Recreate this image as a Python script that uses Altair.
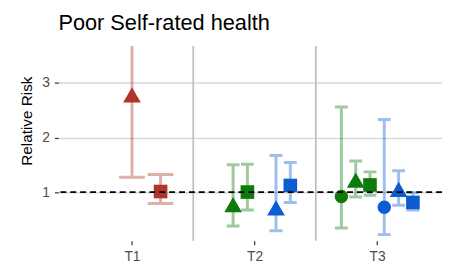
import altair as alt
import pandas as pd

# ---------------- data ----------------
chart_title = ["Poor Self-rated health"]
y_title = ["Relative Risk"]
periods = ["T1", "T2", "T3"]
groups = ["Group A", "Group B", "Group C"]          # red, green, blue
models = ["Model 1", "Model 2", "Model 3"]          # circle, triangle, square

point_period = ["T1", "T1", "T2", "T2", "T2", "T2", "T3", "T3", "T3", "T3", "T3", "T3"]
point_group = ["Group A", "Group A", "Group B", "Group B", "Group C", "Group C",
               "Group B", "Group B", "Group B", "Group C", "Group C", "Group C"]
point_model = ["Model 2", "Model 3", "Model 2", "Model 3", "Model 2", "Model 3",
               "Model 1", "Model 2", "Model 3", "Model 1", "Model 2", "Model 3"]
rr = [2.78, 1.01, 0.77, 1.00, 0.71, 1.12, 0.92, 1.22, 1.13, 0.72, 1.05, 0.81]
ci_low = [1.27, 0.79, 0.38, 0.67, 0.29, 0.81, 0.34, 0.91, 0.94, 0.22, 0.76, 0.67]
ci_high = [5.00, 1.32, 1.50, 1.51, 1.67, 1.54, 2.56, 1.57, 1.37, 2.33, 1.39, 0.99]

reference_value = [1]
y_ticks = [1, 2, 3]

# ---------------- styles ----------------
group_colors = ["#B0362B", "#0E7A0E", "#0C5CD2"]
model_shapes = ["circle", "triangle-up", "square"]
model_sizes = [185, 320, 190]
FONT = "Liberation Sans"
dodge_width = 0.7
cap_frac = 0.9
Y_MIN, Y_MAX = 0.107, 3.676

# ---------------- dodge computation ----------------
n = len(rr)
pts = []
paths = []
for i in range(n):
    p = point_period[i]
    present = {point_group[j] for j in range(n) if point_period[j] == p}
    here = [g for g in groups if g in present]
    nslots = len(here) * len(models)
    slot = here.index(point_group[i]) * len(models) + models.index(point_model[i])
    step = dodge_width / nslots
    x = periods.index(p) + 1 + (slot - (nslots - 1) / 2) * step
    c = cap_frac * step / 2
    pts.append({"id": i, "x": x, "y": rr[i], "group": point_group[i], "model": point_model[i]})
    verts = []
    if ci_high[i] <= Y_MAX:
        verts += [(x - c, ci_high[i]), (x + c, ci_high[i]), (x, ci_high[i])]
    else:  # whisker leaves the panel: cut at the panel edge, no cap
        verts += [(x, Y_MAX)]
    verts += [(x, ci_low[i]), (x - c, ci_low[i]), (x + c, ci_low[i])]
    for k, (vx, vy) in enumerate(verts):
        paths.append({"id": i, "seq": k, "x": vx, "y": vy, "group": point_group[i]})

pts_df = pd.DataFrame(pts)
path_df = pd.DataFrame(paths)
sep_df = pd.DataFrame({"x": [k + 1.5 for k in range(len(periods) - 1)]})
ref_df = pd.DataFrame({"y": reference_value})
title_df = pd.DataFrame({"t": chart_title})
ytitle_df = pd.DataFrame({"t": y_title})

W, H = 388, 197
x_scale = alt.Scale(domain=[0.4, 0.4 + W / 124.0], nice=False, zero=False)
y_scale = alt.Scale(domain=[Y_MIN, Y_MAX], nice=False, zero=False)
color_scale = alt.Scale(domain=groups, range=group_colors)

label_expr = "[" + ",".join("'%s'" % p for p in periods) + "][datum.value - 1]"

x_axis = alt.Axis(values=[1, 2, 3], labelExpr=label_expr, grid=False, domain=False,
                  ticks=True, tickColor="#333333", tickSize=4, tickWidth=1.2,
                  labelFontSize=14, labelColor="#4D4D4D", labelPadding=5,
                  labelFont=FONT, title=None)
y_axis = alt.Axis(values=y_ticks, grid=True, gridColor="#D9D9D9", gridWidth=1.5,
                  domain=False, ticks=True, tickColor="#333333", tickSize=4, tickWidth=1.2,
                  labelFontSize=14, labelColor="#4D4D4D", labelPadding=5, labelFont=FONT,
                  title=None)

X = alt.X("x:Q", scale=x_scale, axis=x_axis)
Y = alt.Y("y:Q", scale=y_scale, axis=y_axis)

seps = alt.Chart(sep_df).mark_rule(color="#BDBDBD", strokeWidth=1.7).encode(x=X)

bars = alt.Chart(path_df).mark_line(strokeWidth=3, opacity=0.4, strokeCap="butt",
                                    strokeJoin="miter").encode(
    x=X, y=Y, detail="id:N", order="seq:Q",
    color=alt.Color("group:N", scale=color_scale, legend=None))

point_layers = []
for m, shp, sz in zip(models, model_shapes, model_sizes):
    point_layers.append(
        alt.Chart(pts_df).transform_filter(alt.datum.model == m)
        .mark_point(filled=True, opacity=1, shape=shp, size=sz, strokeWidth=0)
        .encode(x=X, y=Y, color=alt.Color("group:N", scale=color_scale, legend=None))
    )

ref = alt.Chart(ref_df).mark_rule(color="black", strokeWidth=1.7, strokeDash=[6, 4]).encode(y=Y)

title = alt.Chart(title_df).mark_text(align="left", baseline="alphabetic", fontSize=22,
                                      font=FONT, color="black").encode(
    x=alt.value(0), y=alt.value(-16), text="t:N")

ytitle = alt.Chart(ytitle_df).mark_text(align="center", baseline="alphabetic", fontSize=15.5,
                                        angle=270, font=FONT, color="black").encode(
    x=alt.value(-27), y=alt.value(76), text="t:N")

chart = alt.layer(seps, bars, *point_layers, ref, title, ytitle).properties(
    width=W, height=H,
    padding={"left": 51, "top": 37, "right": 0, "bottom": 22},
    autosize=alt.AutoSizeParams(type="none"),
).configure_view(stroke=None)

chart.save("out.html", embed_options={"renderer": "svg", "actions": False})
